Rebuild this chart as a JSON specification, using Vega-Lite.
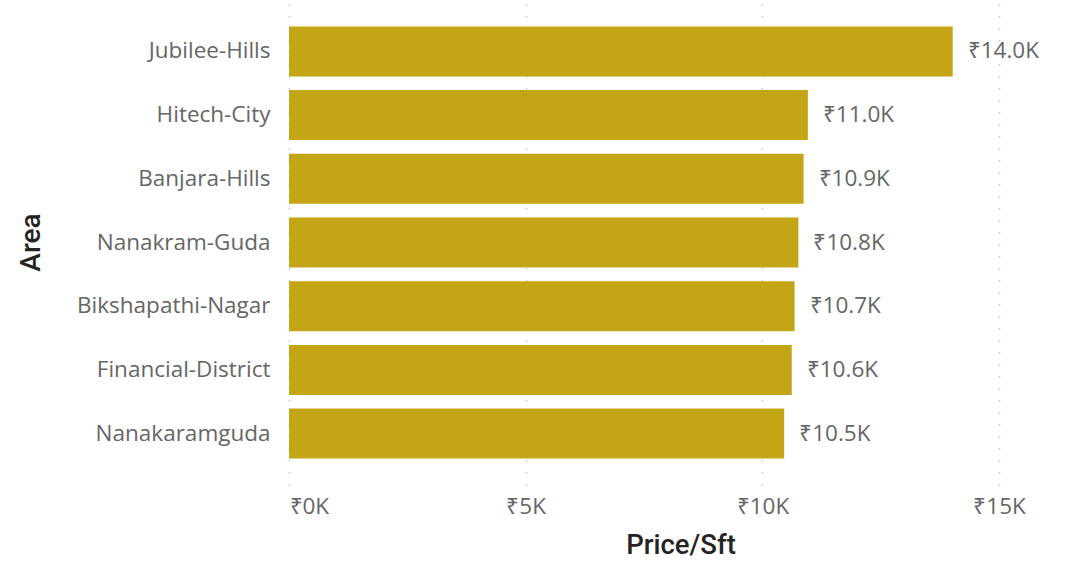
{
  "$schema": "https://vega.github.io/schema/vega-lite/v6.json",
  "width": 783,
  "height": 485,
  "autosize": {"type": "none"},
  "padding": {"left": 289, "top": 0, "right": 0, "bottom": 76},
  "background": "white",
  "config": {"view": {"stroke": null}, "font": "Open Sans"},
  "data": {
    "values": [
      {"area": "Jubilee-Hills", "price": 14020},
      {"area": "Hitech-City", "price": 10960},
      {"area": "Banjara-Hills", "price": 10870},
      {"area": "Nanakram-Guda", "price": 10760},
      {"area": "Bikshapathi-Nagar", "price": 10680},
      {"area": "Financial-District", "price": 10620},
      {"area": "Nanakaramguda", "price": 10460}
    ]
  },
  "transform": [
    {"calculate": "'₹' + format(datum.price / 1000, '.1f') + 'K'", "as": "label"}
  ],
  "encoding": {
    "y": {
      "field": "area",
      "type": "nominal",
      "sort": null,
      "scale": {"paddingInner": 0.215, "paddingOuter": 0.4145},
      "axis": {
        "title": "Area",
        "titleFont": "Roboto",
        "titleFontSize": 28,
        "titleFontWeight": 500,
        "titleColor": "#252423",
        "titleAngle": -90,
        "titleX": -258,
        "titleY": 242,
        "titleAlign": "center",
        "titleBaseline": "middle",
        "domain": false,
        "ticks": false,
        "labelFontSize": 22.5,
        "labelColor": "#666666",
        "labelPadding": 19,
        "labelLimit": 400
      }
    },
    "x": {
      "field": "price",
      "type": "quantitative",
      "scale": {"domain": [0, 16540], "nice": false},
      "axis": {
        "values": [0, 5000, 10000, 15000],
        "labelExpr": "'₹' + (datum.value / 1000) + 'K'",
        "grid": true,
        "gridDash": [1.5, 10.5],
        "gridColor": "#c8c8c8",
        "gridWidth": 1.5,
        "domain": false,
        "ticks": false,
        "labelFontSize": 22.5,
        "labelColor": "#666666",
        "labelPadding": 10,
        "labelBaseline": "top",
        "title": "Price/Sft",
        "titleFont": "Roboto",
        "titleFontSize": 27.5,
        "titleFontWeight": 500,
        "titleColor": "#252423",
        "titleY": 60,
        "titleBaseline": "middle"
      }
    }
  },
  "layer": [
    {"mark": {"type": "bar", "color": "#C4A516"}},
    {
      "mark": {"type": "text", "align": "left", "baseline": "middle", "dx": 15, "fontSize": 22.5, "color": "#666666"},
      "encoding": {"text": {"field": "label"}}
    }
  ]
}
